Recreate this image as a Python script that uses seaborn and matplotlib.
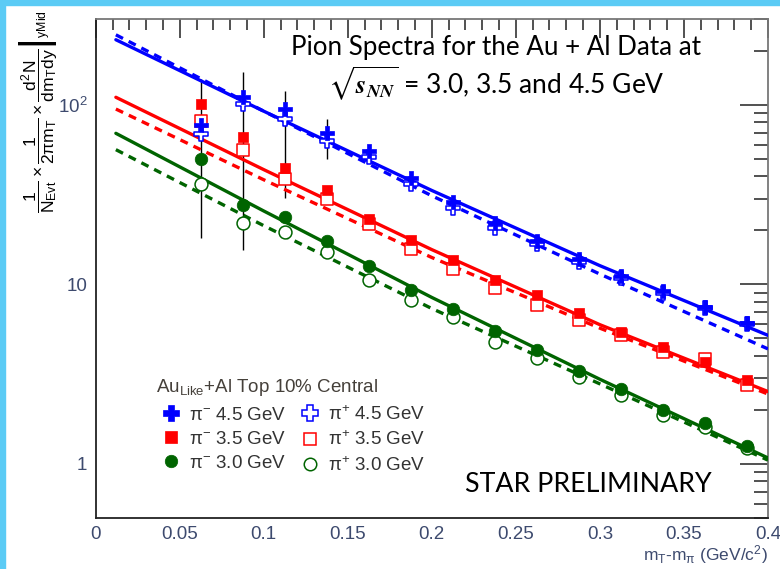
import numpy as np
import pandas as pd
import matplotlib
matplotlib.use("Agg")
import matplotlib.pyplot as plt
import seaborn as sns
from matplotlib.lines import Line2D
from matplotlib.patches import Rectangle
from matplotlib.ticker import MultipleLocator, FuncFormatter, LogLocator, FixedLocator

# ---------------- data ----------------
mt_bins = [0.0625, 0.0875, 0.1125, 0.1375, 0.1625, 0.1875, 0.2125,
           0.2375, 0.2625, 0.2875, 0.3125, 0.3375, 0.3625, 0.3875]

pim_45 = [77, 110, 95, 70, 55, 39, 28.7, 21.9, 17.4, 13.9, 11.1, 9.2, 7.5, 6.1]
pip_45 = [69, 101, 83, 63, 51, 36.3, 26.7, 20.6, 16.7, 13.3, 10.8, 9.0, 7.4, 6.0]
pim_35 = [101, 66, 44.5, 33.3, 23.2, 17.6, 13.6, 10.6, 8.7, 6.9, 5.4, 4.45, 3.7, 2.95]
pip_35 = [81.5, 56, 38.7, 29.9, 21.7, 15.8, 12.2, 9.6, 7.7, 6.3, 5.2, 4.2, 3.85, 2.75]
pim_30 = [50, 27.8, 23.6, 17.4, 12.6, 9.3, 7.3, 5.5, 4.3, 3.3, 2.63, 2.0, 1.68, 1.26]
pip_30 = [36.3, 21.9, 19.5, 15.1, 10.6, 8.2, 6.6, 4.8, 3.9, 3.05, 2.42, 1.87, 1.6, 1.22]

# big vertical error bars on the first bins
err_x = [0.0625, 0.0875, 0.1125, 0.1375]
err_lo = [18, 15.6, 30.4, 50]
err_hi = [139, 153, 119, 83]

# fit curves
fit_x = [0.012, 0.1, 0.2, 0.3, 0.4]
fit_pim_45 = [230, 92, 33.3, 12.7, 5.2]
fit_pip_45 = [245, 92, 31.1, 11.4, 4.37]
fit_pim_35 = [110, 43.5, 15.6, 5.96, 2.53]
fit_pip_35 = [94.6, 38.2, 14.1, 5.70, 2.45]
fit_pim_30 = [69.3, 25.6, 8.45, 2.96, 1.08]
fit_pip_30 = [56.2, 21.2, 7.33, 2.79, 1.05]

energies = ["4.5", "3.5", "3.0"]

# ---------------- style ----------------
sns.set_theme(style="white")
plt.rcParams["font.family"] = ["Liberation Sans", "DejaVu Sans"]
plt.rcParams["mathtext.fontset"] = "custom"
plt.rcParams["mathtext.rm"] = "Liberation Sans"
plt.rcParams["mathtext.it"] = "Liberation Sans:italic"
plt.rcParams["mathtext.bf"] = "Liberation Sans:bold"
plt.rcParams["mathtext.default"] = "regular"

BLUE = "#0000ff"
RED = "#ff0000"
GREEN = "#006400"
TICKC = "#3d4a6e"

fig = plt.figure(figsize=(7.8, 5.69), dpi=100)
ax = fig.add_axes([0.1227, 0.0896, 0.8619, 0.8770])

# error bars behind the markers
ax.vlines(err_x, err_lo, err_hi, color="black", lw=1.0, zorder=2)

series = [
    (pim_45, fit_pim_45, BLUE, "P", True),
    (pip_45, fit_pip_45, BLUE, "P", False),
    (pim_35, fit_pim_35, RED, "s", True),
    (pip_35, fit_pip_35, RED, "s", False),
    (pim_30, fit_pim_30, GREEN, "o", True),
    (pip_30, fit_pip_30, GREEN, "o", False),
]
sizes = {"P": 110, "s": 62, "o": 82}

for yvals, fvals, col, mk, filled in series:
    ls = "-" if filled else (0, (2.4, 1.9))
    sns.lineplot(x=fit_x, y=fvals, color=col, lw=2.4, linestyle=ls,
                 ax=ax, zorder=3)
    if filled:
        sns.scatterplot(x=mt_bins, y=yvals, marker=mk, s=sizes[mk], color=col,
                        edgecolor=col, linewidth=0.5, ax=ax, zorder=5)
    else:
        sns.scatterplot(x=mt_bins, y=yvals, marker=mk, s=sizes[mk] * 1.05,
                        color="white", edgecolor=col, linewidth=1.1,
                        ax=ax, zorder=4)

ax.set_yscale("log")
ax.set_xlim(0, 0.4)
ax.set_ylim(0.5, 300)

ax.xaxis.set_major_locator(MultipleLocator(0.05))
ax.xaxis.set_minor_locator(MultipleLocator(0.01))
ax.xaxis.set_major_formatter(FuncFormatter(lambda v, p: "%g" % round(v, 3)))
ax.yaxis.set_major_locator(FixedLocator([1, 10, 100]))
ax.yaxis.set_minor_locator(LogLocator(base=10, subs=np.arange(2, 10)))
ax.yaxis.set_major_formatter(FuncFormatter(
    lambda v, p: {1: "1", 10: "10", 100: r"$10^{2}$"}.get(int(round(v)), "")))
ax.yaxis.set_minor_formatter(FuncFormatter(lambda v, p: ""))

ax.tick_params(axis="both", which="both", direction="in", top=True, right=True,
               colors="#333333", labelcolor=TICKC, labelsize=13.5, width=1.2)
ax.tick_params(axis="y", which="major", length=20, pad=6)
ax.tick_params(axis="y", which="minor", length=10)
ax.tick_params(axis="x", which="major", length=14, pad=6)
ax.tick_params(axis="x", which="minor", length=8)

for side in ["left", "bottom"]:
    ax.spines[side].set_color("#222222")
    ax.spines[side].set_linewidth(1.3)
for side in ["right", "top"]:
    ax.spines[side].set_color("#777777")
    ax.spines[side].set_linewidth(1.3)

ax.set_xlabel("")
ax.set_ylabel("")
fig.text(768 / 780, 1 - 555 / 569, r"$m_{T}$-$m_{\pi}$ (GeV/c$^{2}$)",
         ha="right", va="center", fontsize=12.5, color=TICKC)
fig.text(38 / 780, 1 - 112 / 569,
         r"$\dfrac{1}{N_{Evt}}\times\dfrac{1}{2\pi m_{T}}\times"
         r"\left.\dfrac{d^{2}N}{dm_{T}dy}\right|_{yMid}$",
         rotation=90, ha="center", va="center", fontsize=12.6, color="black")

# ---------------- annotations ----------------
fig.text(496 / 780, 1 - 47 / 569, "Pion Spectra for the Au + Al Data at",
         ha="center", va="center", fontsize=18.7, family="Lato", color="black")
fig.text(496 / 780, 1 - 84 / 569,
         r"$\sqrt{\mathbfit{s}_{\mathbfit{NN}}}$ = 3.0, 3.5 and 4.5 GeV",
         ha="center", va="center", fontsize=19, family="Lato", color="black",
         math_fontfamily="stix")
fig.text(588 / 780, 1 - 485 / 569, "STAR PRELIMINARY", ha="center",
         va="center", fontsize=19.3, family="Lato", color="black")

# ---------------- legend ----------------
handles = []
labels = []
for charge, filled in [("-", True), ("+", False)]:
    for e, col, mk in zip(energies, [BLUE, RED, GREEN], ["P", "s", "o"]):
        ms = {"P": 11, "s": 8, "o": 9}[mk]
        handles.append(Line2D([], [], marker=mk, linestyle="None", markersize=ms,
                              markerfacecolor=col if filled else "white",
                              markeredgecolor=col,
                              markeredgewidth=0.5 if filled else 1.1))
        labels.append(r"$\pi^{%s}$ %s GeV" % (charge, e))

leg = ax.legend(handles, labels, ncol=2, frameon=False,
                title=r"Au$_{Like}$+Al Top 10% Central",
                loc="upper left", bbox_to_anchor=(148 / 780, 1 - 370 / 569),
                bbox_transform=fig.transFigure, fontsize=13.5,
                title_fontsize=13.5, handlelength=1.6, handletextpad=0.18,
                columnspacing=0.45, labelspacing=0.36, borderaxespad=0,
                alignment="left")
leg.get_title().set_color("#45403a")
for t in leg.get_texts():
    t.set_color("#333333")

# light-blue slide border
fig.patches.append(Rectangle((0, 1 - 5 / 569), 1, 5 / 569,
                             transform=fig.transFigure, color="#5bcbf5", zorder=10))
fig.patches.append(Rectangle((0, 0), 5 / 780, 1,
                             transform=fig.transFigure, color="#5bcbf5", zorder=10))

fig.savefig("out.png", dpi=100)
